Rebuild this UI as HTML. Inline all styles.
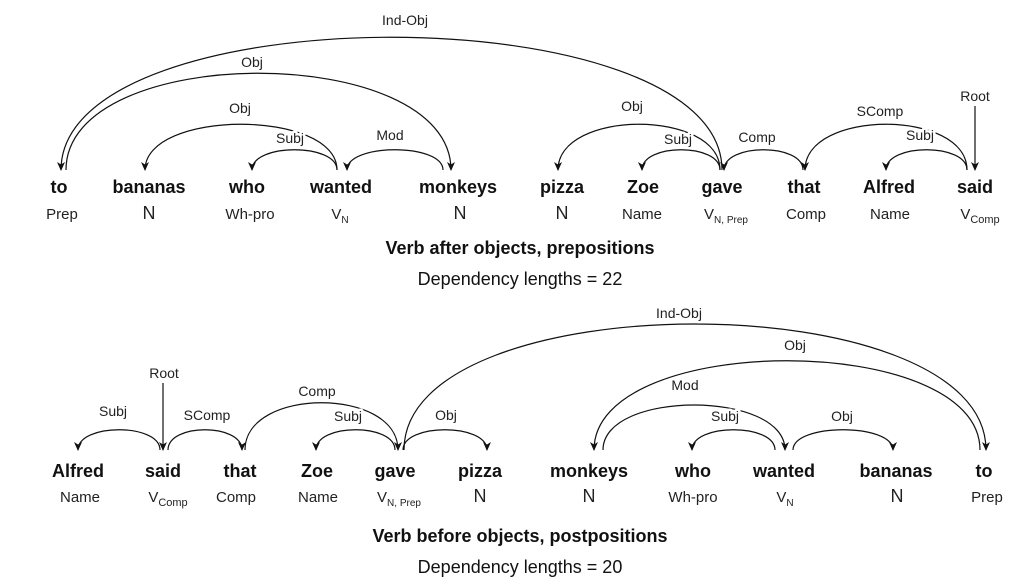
<!DOCTYPE html>
<html><head><meta charset="utf-8"><style>
body{margin:0;background:#fff;}
svg{display:block;font-family:"Liberation Sans",Arial,sans-serif;}
.w{font-weight:bold;font-size:18px;text-anchor:middle;fill:#111}
.t{font-size:15px;text-anchor:middle;fill:#222}
.s{font-size:10px}
.l{font-size:14px;text-anchor:middle;fill:#222;stroke:#fff;stroke-width:5px;paint-order:stroke;stroke-linejoin:round}
.a{fill:none;stroke:#111;stroke-width:1.2}
.ti{font-weight:bold;font-size:18px;text-anchor:middle;fill:#111}
.dl{font-size:18px;text-anchor:middle;fill:#111}
</style></head><body>
<svg width="1026" height="586" viewBox="0 0 1026 586">
<defs><marker id="m" markerWidth="10" markerHeight="10" refX="8" refY="5" orient="auto" markerUnits="userSpaceOnUse"><path d="M0,1 L9,5 L0,9 L2.5,5 Z" fill="#111"/></marker></defs>

<!-- TOP ARCS -->
<g class="a">
<path d="M722,170 C722,-7 61,-7 61,170" marker-end="url(#m)"/>
<path d="M66,170 C66,41 451,41 451,170" marker-end="url(#m)"/>
<path d="M337,170 C337,109 145,109 145,170" marker-end="url(#m)"/>
<path d="M337,170 C337,143 252,143 252,170" marker-end="url(#m)"/>
<path d="M443,170 C443,143 347,143 347,170" marker-end="url(#m)"/>
<path d="M720,170 C720,109 558,109 558,170" marker-end="url(#m)"/>
<path d="M720,170 C720,143 642,143 642,170" marker-end="url(#m)"/>
<path d="M803,170 C803,143 724,143 724,170" marker-end="url(#m)"/>
<path d="M967,170 C967,109 805,109 805,170" marker-end="url(#m)"/>
<path d="M967,170 C967,143 886,143 886,170" marker-end="url(#m)"/>
<path d="M975,106 L975,170" marker-end="url(#m)"/>
</g>
<text class="l" x="405" y="25">Ind-Obj</text>
<text class="l" x="252" y="67">Obj</text>
<text class="l" x="240" y="113">Obj</text>
<text class="l" x="290" y="143">Subj</text>
<text class="l" x="390" y="140">Mod</text>
<text class="l" x="632" y="111">Obj</text>
<text class="l" x="678" y="144">Subj</text>
<text class="l" x="757" y="142">Comp</text>
<text class="l" x="880" y="116">SComp</text>
<text class="l" x="920" y="140">Subj</text>
<text class="l" x="975" y="101">Root</text>

<g>
<text class="w" x="59" y="193">to</text>
<text class="w" x="149" y="193">bananas</text>
<text class="w" x="247" y="193">who</text>
<text class="w" x="341" y="193">wanted</text>
<text class="w" x="458" y="193">monkeys</text>
<text class="w" x="562" y="193">pizza</text>
<text class="w" x="643" y="193">Zoe</text>
<text class="w" x="722" y="193">gave</text>
<text class="w" x="804" y="193">that</text>
<text class="w" x="889" y="193">Alfred</text>
<text class="w" x="975" y="193">said</text>
</g>
<g>
<text class="t" x="62" y="219">Prep</text>
<text class="t" x="149" y="219" style="font-size:18px">N</text>
<text class="t" x="250" y="219">Wh-pro</text>
<text class="t" x="340" y="219">V<tspan class="s" dy="4">N</tspan></text>
<text class="t" x="460" y="219" style="font-size:18px">N</text>
<text class="t" x="562" y="219" style="font-size:18px">N</text>
<text class="t" x="642" y="219">Name</text>
<text class="t" x="726" y="219">V<tspan class="s" dy="4">N, Prep</tspan></text>
<text class="t" x="806" y="219">Comp</text>
<text class="t" x="890" y="219">Name</text>
<text class="t" x="980" y="219">V<tspan class="s" dy="4" style="font-size:11px">Comp</tspan></text>
</g>
<text class="ti" x="520" y="254">Verb after objects, prepositions</text>
<text class="dl" x="520" y="285">Dependency lengths = 22</text>

<!-- BOTTOM ARCS -->
<g class="a">
<path d="M163,383 L163,450" marker-end="url(#m)"/>
<path d="M160,450 C160,423 78,423 78,450" marker-end="url(#m)"/>
<path d="M168,450 C168,423 242,423 242,450" marker-end="url(#m)"/>
<path d="M245,450 C245,387 398,387 398,450" marker-end="url(#m)"/>
<path d="M395,450 C395,423 316,423 316,450" marker-end="url(#m)"/>
<path d="M403,450 C403,423 487,423 487,450" marker-end="url(#m)"/>
<path d="M404,450 C404,282 986,282 986,450" marker-end="url(#m)"/>
<path d="M980,450 C980,331 594,331 594,450" marker-end="url(#m)"/>
<path d="M603,450 C603,390 785,390 785,450" marker-end="url(#m)"/>
<path d="M775,450 C775,423 692,423 692,450" marker-end="url(#m)"/>
<path d="M793,450 C793,423 893,423 893,450" marker-end="url(#m)"/>
</g>
<text class="l" x="164" y="378">Root</text>
<text class="l" x="113" y="416">Subj</text>
<text class="l" x="207" y="420">SComp</text>
<text class="l" x="317" y="396">Comp</text>
<text class="l" x="348" y="421">Subj</text>
<text class="l" x="446" y="420">Obj</text>
<text class="l" x="679" y="318">Ind-Obj</text>
<text class="l" x="795" y="350">Obj</text>
<text class="l" x="685" y="390">Mod</text>
<text class="l" x="725" y="421">Subj</text>
<text class="l" x="842" y="421">Obj</text>

<g>
<text class="w" x="78" y="477">Alfred</text>
<text class="w" x="163" y="477">said</text>
<text class="w" x="240" y="477">that</text>
<text class="w" x="317" y="477">Zoe</text>
<text class="w" x="395" y="477">gave</text>
<text class="w" x="480" y="477">pizza</text>
<text class="w" x="589" y="477">monkeys</text>
<text class="w" x="693" y="477">who</text>
<text class="w" x="784" y="477">wanted</text>
<text class="w" x="896" y="477">bananas</text>
<text class="w" x="984" y="477">to</text>
</g>
<g>
<text class="t" x="80" y="502">Name</text>
<text class="t" x="168" y="502">V<tspan class="s" dy="4" style="font-size:11px">Comp</tspan></text>
<text class="t" x="236" y="502">Comp</text>
<text class="t" x="318" y="502">Name</text>
<text class="t" x="399" y="502">V<tspan class="s" dy="4">N, Prep</tspan></text>
<text class="t" x="480" y="502" style="font-size:18px">N</text>
<text class="t" x="589" y="502" style="font-size:18px">N</text>
<text class="t" x="693" y="502">Wh-pro</text>
<text class="t" x="785" y="502">V<tspan class="s" dy="4">N</tspan></text>
<text class="t" x="897" y="502" style="font-size:18px">N</text>
<text class="t" x="987" y="502">Prep</text>
</g>
<text class="ti" x="520" y="542">Verb before objects, postpositions</text>
<text class="dl" x="520" y="573">Dependency lengths = 20</text>
</svg>
</body></html>
